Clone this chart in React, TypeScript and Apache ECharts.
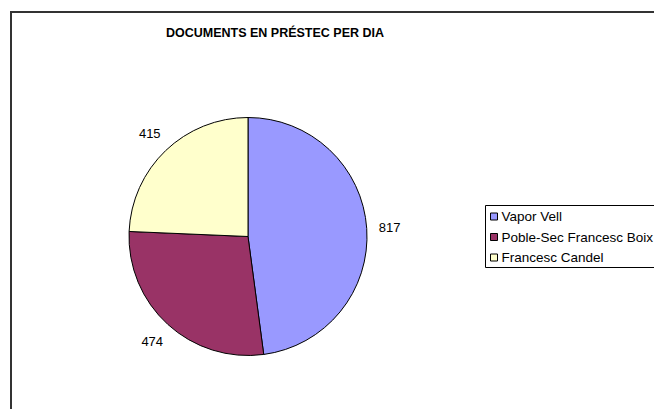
import React, { useEffect, useRef } from "react";
import * as echarts from "echarts";

const TITLE = "DOCUMENTS EN PRÉSTEC PER DIA";
const categories = ["Vapor Vell", "Poble-Sec Francesc Boix", "Francesc Candel"];
const values = [817, 474, 415];
const colors = ["#9999FF", "#993366", "#FFFFCC"];

export default function App() {
  const ref = useRef<HTMLDivElement>(null);
  useEffect(() => {
    if (!ref.current) return;
    const chart = echarts.init(ref.current, undefined, { renderer: "svg" });
    const data = categories.map((name, i) => ({
      name,
      value: values[i],
      itemStyle: { color: colors[i] },
    }));
    const font = "'Liberation Sans', Arial, sans-serif";
    chart.setOption({
      animation: false,
      backgroundColor: "#ffffff",
      title: {
        text: TITLE,
        left: 275,
        top: 26,
        textAlign: "center",
        padding: 0,
        textStyle: { fontFamily: font, fontSize: 12.5, fontWeight: "bold", color: "#000" },
      },
      legend: {
        orient: "vertical",
        left: 490,
        top: 209.5,
        padding: 0,
        itemWidth: 7,
        itemHeight: 7,
        itemGap: 6.5,
        icon: "rect",
        data: categories,
        itemStyle: { borderColor: "#000", borderWidth: 1 },
        textStyle: { fontFamily: font, fontSize: 13.5, color: "#000", lineHeight: 14, padding: [0, 0, 0, -1] },
      },
      graphic: [
        {
          type: "rect",
          shape: { x: 11, y: 12, width: 700, height: 500 },
          style: { fill: "none", stroke: "#333", lineWidth: 2 },
          silent: true,
        },
        {
          type: "rect",
          shape: { x: 485.5, y: 205.5, width: 200, height: 62 },
          style: { fill: "none", stroke: "#000", lineWidth: 1 },
          silent: true,
        },
      ],
      series: [
        {
          type: "pie",
          center: [248, 236.5],
          radius: [0, 119],
          startAngle: 90,
          clockwise: true,
          data,
          label: { show: false },
          labelLine: { show: false },
          itemStyle: { borderColor: "#000", borderWidth: 1 },
          emphasis: { disabled: true },
        },
        {
          type: "pie",
          center: [248, 236.5],
          radius: [119, 159],
          startAngle: 90,
          clockwise: true,
          silent: true,
          data: categories.map((name, i) => ({ name, value: values[i] })),
          itemStyle: { color: "rgba(0,0,0,0)", borderWidth: 0 },
          label: {
            show: true,
            position: "inside",
            formatter: "{c}",
            fontFamily: font,
            fontSize: 13,
            color: "#000",
          },
          labelLine: { show: false },
          emphasis: { disabled: true },
        },
      ],
    });
    return () => chart.dispose();
  }, []);
  return (
    <div
      ref={ref}
      style={{ position: "fixed", left: 0, top: 0, width: 654, height: 409 }}
    />
  );
}
